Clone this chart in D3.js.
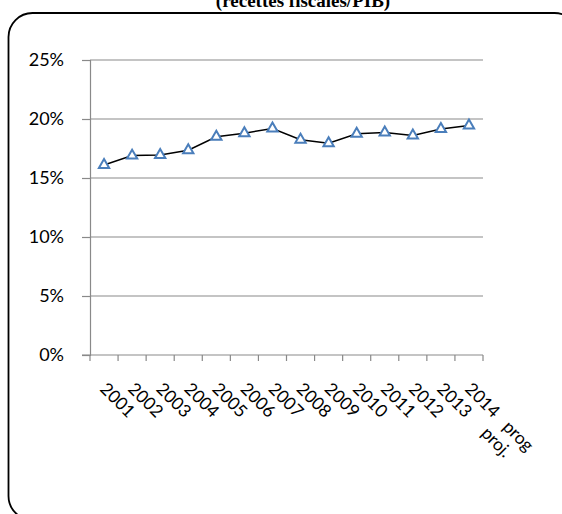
<!DOCTYPE html>
<html><head><meta charset="utf-8">
<script src="https://cdn.jsdelivr.net/npm/d3@7"></script>
<style>body{margin:0;background:#fff;}svg{display:block;}</style>
</head><body>
<script>
const titleText = "(recettes fiscales/PIB)";
const categories = ["2001","2002","2003","2004","2005","2006","2007","2008","2009","2010","2011","2012","2013 proj.","2014 prog"];
const values = [16.1,16.9,16.95,17.35,18.5,18.8,19.2,18.25,17.95,18.75,18.85,18.6,19.15,19.45];
const yTicks = [0,5,10,15,20,25];

const W = 562, H = 514;
const svg = d3.select("body").append("svg").attr("width", W).attr("height", H);

// frame
svg.append("rect").attr("x", 8.5).attr("y", 13).attr("width", 570).attr("height", 507)
  .attr("rx", 24).attr("ry", 24).attr("fill", "none").attr("stroke", "#000").attr("stroke-width", 1.8);

// title (partially cut off at top, as in the reference)
svg.append("text").attr("x", 303).attr("y", 7).attr("text-anchor", "middle")
  .attr("font-family", "Liberation Serif, DejaVu Serif, serif").attr("font-weight", "bold")
  .attr("font-size", 19).text(titleText);

const x0 = 90, x1 = 483, yTop = 60, yBot = 355;
const x = d3.scaleBand().domain(categories).range([x0, x1]);
const y = d3.scaleLinear().domain([0, 25]).range([yBot, yTop]);
const grid = "#898989";

// gridlines
svg.append("g").selectAll("line").data(yTicks.filter(d => d > 0)).join("line")
  .attr("x1", x0).attr("x2", x1).attr("y1", d => y(d)).attr("y2", d => y(d))
  .attr("stroke", grid).attr("stroke-width", 1.2);

// y axis
const yAxis = d3.axisLeft(y).tickValues(yTicks).tickFormat(d => d + "%").tickSize(8).tickPadding(18);
const gy = svg.append("g").attr("transform", `translate(${x0},0)`).call(yAxis);
gy.select(".domain").attr("stroke", grid).attr("stroke-width", 1.2);
gy.selectAll(".tick line").attr("stroke", grid).attr("stroke-width", 1.2);
gy.selectAll(".tick text").attr("font-family", "Lato, 'Open Sans', sans-serif").attr("font-size", 18).attr("fill", "#000");

// x axis line and ticks at category boundaries
const bw = x.bandwidth();
svg.append("line").attr("x1", x0 - 8).attr("x2", x1).attr("y1", yBot).attr("y2", yBot)
  .attr("stroke", grid).attr("stroke-width", 1.2);
const bounds = categories.map(c => x(c)).concat([x1]);
svg.append("g").selectAll("line").data(bounds).join("line")
  .attr("x1", d => d).attr("x2", d => d).attr("y1", yBot).attr("y2", yBot + 6)
  .attr("stroke", grid).attr("stroke-width", 1.2);

// x labels
const extraDx = {"2013 proj.": 22, "2014 prog": 13};
const lab = svg.append("g").selectAll("text").data(categories).join("text")
  .attr("transform", d => `translate(${x(d) + bw / 2 - 5},${390}) rotate(45)`)
  .attr("font-family", "Lato, 'Open Sans', sans-serif").attr("font-size", 17.5).attr("fill", "#000");
lab.each(function(d) {
  const parts = d.split(" ");
  const t = d3.select(this);
  t.append("tspan").text(parts[0]);
  if (parts[1]) t.append("tspan").attr("dx", extraDx[d] || 10).text(parts[1]);
});

// line
const line = d3.line().x((d, i) => x(categories[i]) + bw / 2).y(d => y(d));
svg.append("path").datum(values).attr("d", line).attr("fill", "none")
  .attr("stroke", "#000").attr("stroke-width", 1.5);

// markers
const tri = d3.symbol().type(d3.symbolTriangle).size(46);
svg.append("g").selectAll("path").data(values).join("path")
  .attr("d", tri)
  .attr("transform", (d, i) => `translate(${x(categories[i]) + bw / 2},${y(d)})`)
  .attr("fill", "#fff").attr("stroke", "#4a7ebb").attr("stroke-width", 2);
</script>
</body></html>
